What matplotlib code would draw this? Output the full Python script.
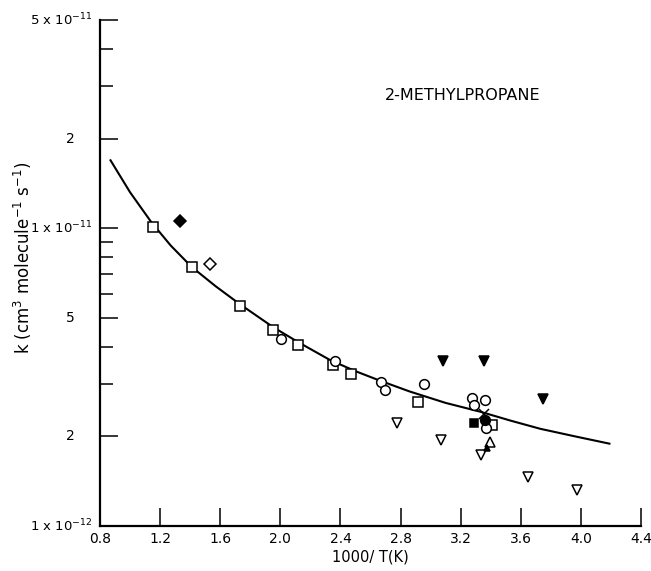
import matplotlib
matplotlib.use("Agg")
import matplotlib.pyplot as plt
from matplotlib.transforms import blended_transform_factory

# fitted curve
curve_x = [0.87, 1.00, 1.14, 1.27, 1.41, 1.57, 1.73, 1.95, 2.12, 2.33, 2.50, 2.66,
           2.86, 3.10, 3.33, 3.53, 3.73, 3.96, 4.19]
curve_k = [1.69e-11, 1.32e-11, 1.05e-11, 8.75e-12, 7.41e-12, 6.38e-12, 5.56e-12,
           4.66e-12, 4.14e-12, 3.61e-12, 3.31e-12, 3.08e-12, 2.83e-12, 2.59e-12,
           2.42e-12, 2.26e-12, 2.12e-12, 2.00e-12, 1.89e-12]

# data sets
sq_x = [1.155, 1.412, 1.733, 1.949, 2.119, 2.348, 2.47, 2.918, 3.41]
sq_k = [1.013e-11, 7.39e-12, 5.49e-12, 4.56e-12, 4.06e-12, 3.47e-12, 3.23e-12, 2.60e-12, 2.19e-12]

circ_x = [2.002, 2.364, 2.67, 2.696, 2.958, 3.273, 3.288, 3.36, 3.368]
circ_k = [4.25e-12, 3.57e-12, 3.05e-12, 2.86e-12, 3.0e-12, 2.69e-12, 2.55e-12, 2.65e-12, 2.14e-12]

fdia_x = [1.332]
fdia_k = [1.053e-11]
odia_x = [1.532]
odia_k = [7.58e-12]

ftri_dn_x = [3.08, 3.357, 3.746]
ftri_dn_k = [3.59e-12, 3.59e-12, 2.67e-12]

otri_dn_x = [2.774, 3.067, 3.335, 3.65, 3.974]
otri_dn_k = [2.21e-12, 1.94e-12, 1.73e-12, 1.46e-12, 1.32e-12]

fsq_x = [3.29]
fsq_k = [2.21e-12]
fcirc_x = [3.36]
fcirc_k = [2.27e-12]
cross_x = [3.355]
cross_k = [2.38e-12]
otri_up_x = [3.395]
otri_up_k = [1.91e-12]
ftri_up_x = [3.377]
ftri_up_k = [1.83e-12]

xticks = [0.8, 1.2, 1.6, 2.0, 2.4, 2.8, 3.2, 3.6, 4.0, 4.4]
ymajor = [5e-11, 2e-11, 1e-11, 5e-12, 2e-12]
yminor = [4e-11, 3e-11, 9e-12, 8e-12, 7e-12, 6e-12, 4e-12, 3e-12]
ylabels_long = [(5e-11, r"5 x 10$^{-11}$"), (1e-11, r"1 x 10$^{-11}$"), (1e-12, r"1 x 10$^{-12}$")]
ylabels_short = [(2e-11, "2"), (5e-12, "5"), (2e-12, "2")]


def main():
    fig = plt.figure(figsize=(6.51, 5.71), dpi=100)
    ax = fig.add_axes([100 / 651, 45 / 571, 541 / 651, 506 / 571])

    ax.plot(curve_x, curve_k, color="black", lw=1.5, zorder=2)

    mk = dict(color="black", linestyle="none", markeredgewidth=1.1, zorder=3)
    ax.plot(sq_x, sq_k, marker="s", ms=6.5, mfc="white", **mk)
    ax.plot(circ_x, circ_k, marker="o", ms=7, mfc="white", **mk)
    ax.plot(fdia_x, fdia_k, marker="D", ms=6, mfc="black", **mk)
    ax.plot(odia_x, odia_k, marker="D", ms=6, mfc="white", **mk)
    ax.plot(ftri_dn_x, ftri_dn_k, marker="v", ms=7.5, mfc="black", **mk)
    ax.plot(otri_dn_x, otri_dn_k, marker="v", ms=7, mfc="white", **mk)
    ax.plot(fsq_x, fsq_k, marker="s", ms=6, mfc="black", **mk)
    ax.plot(fcirc_x, fcirc_k, marker="o", ms=7, mfc="black", **mk)
    ax.plot(cross_x, cross_k, marker="x", ms=7, mfc="black", **mk)
    ax.plot(otri_up_x, otri_up_k, marker="^", ms=7, mfc="white", **mk)
    ax.plot(ftri_up_x, ftri_up_k, marker="^", ms=5, mfc="black", **mk)

    ax.set_yscale("log")
    ax.set_xlim(0.8, 4.4)
    ax.set_ylim(1e-12, 5e-11)

    for s in ("top", "right"):
        ax.spines[s].set_visible(False)
    for s in ("left", "bottom"):
        ax.spines[s].set_linewidth(1.6)

    ax.set_xticks(xticks)
    ax.set_xticklabels([f"{v:.1f}" for v in xticks], fontsize=10)
    ax.tick_params(axis="x", direction="in", length=13, width=1.1, pad=4)

    ax.set_yticks(ymajor)
    ax.set_yticks(yminor, minor=True)
    ax.set_yticklabels([])
    ax.set_yticklabels([], minor=True)
    ax.tick_params(axis="y", which="major", direction="in", length=13, width=1.1)
    ax.tick_params(axis="y", which="minor", direction="in", length=9, width=1.1)

    tr = blended_transform_factory(ax.transAxes, ax.transData)
    for v, lab in ylabels_long:
        ax.text(-0.014, v, lab, transform=tr, ha="right", va="center", fontsize=9.5)
    for v, lab in ylabels_short:
        ax.text(-0.054, v, lab, transform=tr, ha="center", va="center", fontsize=10)

    ax.set_ylabel(r"k (cm$^3$ molecule$^{-1}$ s$^{-1}$)", fontsize=12)
    ax.yaxis.set_label_coords(-0.122, 0.53)
    ax.set_xlabel("1000/ T(K)", fontsize=10.5, labelpad=3)

    fig.text(463 / 651, 1 - 95 / 571, "2-METHYLPROPANE", fontsize=11.5,
             ha="center", va="center")

    fig.savefig("out.png", dpi=100)
    plt.close(fig)


if __name__ == "__main__":
    main()
